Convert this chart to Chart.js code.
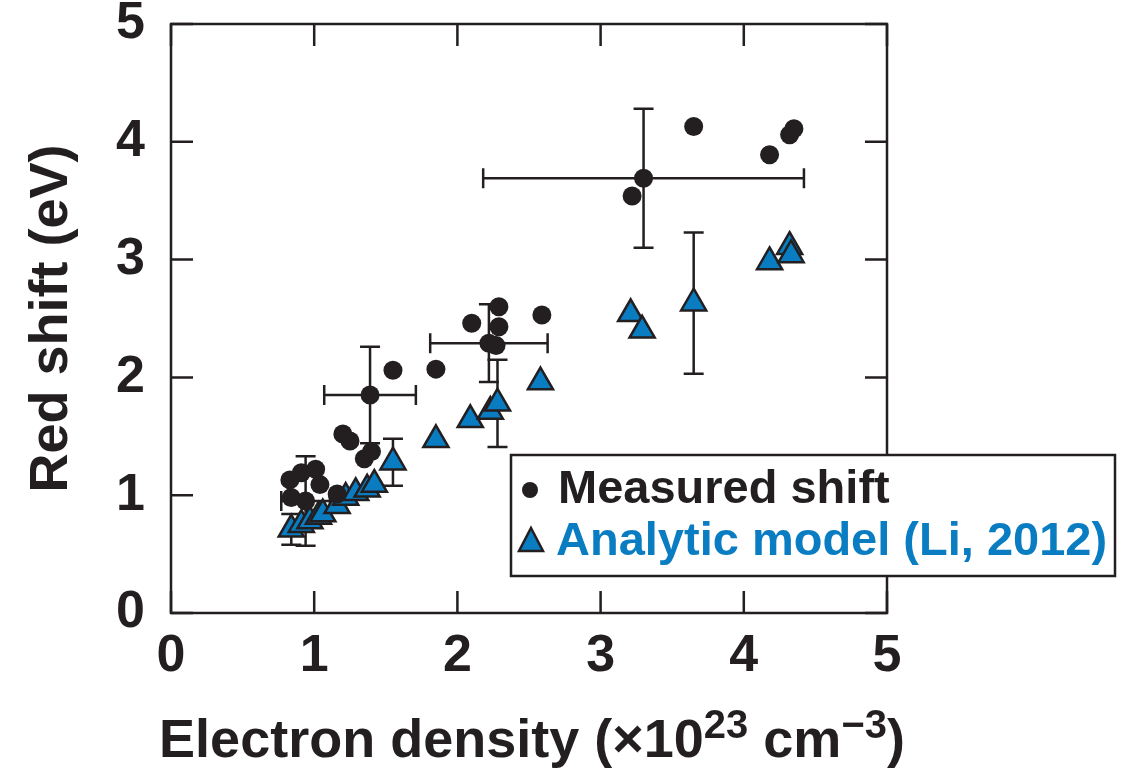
<!DOCTYPE html>
<html>
<head>
<meta charset="utf-8">
<script src="https://cdn.jsdelivr.net/npm/chart.js@4.4.1/dist/chart.umd.min.js"></script>
<style>
  html, body { margin: 0; padding: 0; background: #fff; }
  #wrap { width: 1122px; height: 772px; }
</style>
</head>
<body>
<div id="wrap"><canvas id="chart" width="1122" height="772"></canvas></div>
<script>
// measured red shift (black dots)
const measuredX = [0.83, 0.91, 1.01, 1.04, 0.84, 0.94, 1.16, 1.20, 1.25, 1.35, 1.40, 1.39, 1.55, 1.85,
                   2.10, 2.29, 2.29, 2.22, 2.27, 2.59, 3.22, 3.30, 3.65, 4.18, 4.32, 4.35];
const measuredY = [1.13, 1.19, 1.22, 1.09, 0.98, 0.95, 1.01, 1.52, 1.46, 1.31, 1.37, 1.85, 2.06, 2.07,
                   2.46, 2.60, 2.43, 2.29, 2.27, 2.53, 3.54, 3.69, 4.13, 3.89, 4.06, 4.11];
const measuredXErr = [0, 0, 0, 0, 0, 0.17, 0, 0, 0, 0, 0, 0.32, 0, 0,
                      0, 0, 0, 0.41, 0, 0, 0, 1.12, 0, 0, 0, 0];
const measuredYErr = [0, 0, 0, 0, 0, 0.38, 0, 0, 0, 0, 0, 0.41, 0, 0,
                      0, 0, 0, 0.33, 0, 0, 0, 0.59, 0, 0, 0, 0];

// analytic model (Li, 2012) (blue triangles)
const modelX = [0.84, 0.91, 0.97, 1.03, 1.06, 1.16, 1.22, 1.29, 1.37, 1.42, 1.55, 1.85,
                2.09, 2.23, 2.28, 2.58, 3.21, 3.29, 3.65, 4.18, 4.32, 4.33];
const modelY = [0.71, 0.75, 0.78, 0.82, 0.84, 0.91, 0.98, 1.02, 1.05, 1.09, 1.28, 1.47,
                1.64, 1.71, 1.78, 1.96, 2.54, 2.40, 2.63, 2.98, 3.11, 3.04];
const modelYErr = [0.13, 0, 0, 0, 0, 0, 0, 0, 0, 0, 0.20, 0,
                   0, 0, 0.37, 0, 0, 0, 0.60, 0, 0, 0];

const tickValues = [0, 1, 2, 3, 4, 5];
const legendLabels = ['Measured shift', 'Analytic model (Li, 2012)'];

const ink = '#231f20';
const blue = '#0a7dc2';
const fontFamily = "'Liberation Sans', Arial, sans-serif";

const toPoints = (xs, ys) => xs.map((x, i) => ({ x: x, y: ys[i] }));

// error bars, behind the markers
const errorBars = {
    id: 'errorBars',
    beforeDatasetsDraw(chart) {
        const ctx = chart.ctx;
        const xs = chart.scales.x, ys = chart.scales.y;
        const cap = 10;
        ctx.save();
        ctx.strokeStyle = ink;
        ctx.lineWidth = 2.5;
        const bars = (px, py, exs, eys) => {
            px.forEach((x, i) => {
                const cx = xs.getPixelForValue(x), cy = ys.getPixelForValue(py[i]);
                const ex = exs ? exs[i] : 0, ey = eys ? eys[i] : 0;
                ctx.beginPath();
                if (ex > 0) {
                    const l = xs.getPixelForValue(x - ex), r = xs.getPixelForValue(x + ex);
                    ctx.moveTo(l, cy); ctx.lineTo(r, cy);
                    ctx.moveTo(l, cy - cap); ctx.lineTo(l, cy + cap);
                    ctx.moveTo(r, cy - cap); ctx.lineTo(r, cy + cap);
                }
                if (ey > 0) {
                    const t = ys.getPixelForValue(py[i] + ey), b = ys.getPixelForValue(py[i] - ey);
                    ctx.moveTo(cx, t); ctx.lineTo(cx, b);
                    ctx.moveTo(cx - cap, t); ctx.lineTo(cx + cap, t);
                    ctx.moveTo(cx - cap, b); ctx.lineTo(cx + cap, b);
                }
                ctx.stroke();
            });
        };
        bars(modelX, modelY, null, modelYErr);
        bars(measuredX, measuredY, measuredXErr, measuredYErr);
        ctx.restore();
    }
};

// box round the plot with inward ticks on all four sides
const frame = {
    id: 'frame',
    afterDatasetsDraw(chart) {
        const ctx = chart.ctx, a = chart.chartArea;
        const xs = chart.scales.x, ys = chart.scales.y;
        const len = 22;
        ctx.save();
        ctx.strokeStyle = ink;
        ctx.lineWidth = 2.5;
        ctx.strokeRect(a.left, a.top, a.right - a.left, a.bottom - a.top);
        ctx.beginPath();
        tickValues.forEach(v => {
            const px = xs.getPixelForValue(v), py = ys.getPixelForValue(v);
            ctx.moveTo(px, a.bottom); ctx.lineTo(px, a.bottom - len);
            ctx.moveTo(px, a.top); ctx.lineTo(px, a.top + len);
            ctx.moveTo(a.left, py); ctx.lineTo(a.left + len, py);
            ctx.moveTo(a.right, py); ctx.lineTo(a.right - len, py);
        });
        ctx.stroke();
        ctx.restore();
    }
};

// x title with raised exponents
const xTitle = {
    id: 'xTitle',
    afterDraw(chart) {
        const ctx = chart.ctx, a = chart.chartArea;
        const big = 'bold 54px ' + fontFamily, small = 'bold 40px ' + fontFamily;
        const parts = [
            { t: 'Electron density (\u00d710', f: big, dy: 0 },
            { t: '23', f: small, dy: -19 },
            { t: ' cm', f: big, dy: 0 },
            { t: '\u22123', f: small, dy: -19 },
            { t: ')', f: big, dy: 0 }
        ];
        ctx.save();
        ctx.fillStyle = ink;
        ctx.textBaseline = 'alphabetic';
        let w = 0;
        parts.forEach(p => { ctx.font = p.f; p.w = ctx.measureText(p.t).width; w += p.w; });
        let x = (a.left + a.right) / 2 + 3 - w / 2;
        const base = 757;
        parts.forEach(p => { ctx.font = p.f; ctx.fillText(p.t, x, base + p.dy); x += p.w; });
        ctx.restore();
    }
};

// boxed legend overlapping the lower right corner
const boxLegend = {
    id: 'boxLegend',
    afterDraw(chart) {
        const ctx = chart.ctx;
        const bx = 511, by = 455, bw = 604, bh = 121;
        ctx.save();
        ctx.fillStyle = '#fff';
        ctx.fillRect(bx, by, bw, bh);
        ctx.strokeStyle = ink;
        ctx.lineWidth = 2.5;
        ctx.strokeRect(bx, by, bw, bh);

        ctx.fillStyle = ink;
        ctx.beginPath();
        ctx.arc(530, 490, 8, 0, Math.PI * 2);
        ctx.fill();

        ctx.beginPath();
        ctx.moveTo(531, 528); ctx.lineTo(543, 551); ctx.lineTo(519, 551); ctx.closePath();
        ctx.fillStyle = blue;
        ctx.fill();
        ctx.lineWidth = 2.5;
        ctx.stroke();

        ctx.font = 'bold 47px ' + fontFamily;
        ctx.textBaseline = 'alphabetic';
        ctx.fillStyle = ink;
        ctx.fillText(legendLabels[0], 558, 503);
        ctx.fillStyle = blue;
        ctx.fillText(legendLabels[1], 556, 555);
        ctx.restore();
    }
};

new Chart(document.getElementById('chart').getContext('2d'), {
    type: 'scatter',
    data: {
        datasets: [{
            label: legendLabels[0],
            data: toPoints(measuredX, measuredY),
            pointStyle: 'circle',
            pointRadius: 9.5,
            backgroundColor: ink,
            borderColor: ink,
            borderWidth: 0
        }, {
            label: legendLabels[1],
            data: toPoints(modelX, modelY),
            pointStyle: 'triangle',
            pointRadius: 14.5,
            backgroundColor: blue,
            borderColor: ink,
            borderWidth: 2.5
        }]
    },
    options: {
        responsive: false,
        animation: false,
        layout: { padding: { top: 24, right: 235, bottom: 0, left: 0 } },
        plugins: { legend: { display: false }, tooltip: { enabled: false } },
        scales: {
            x: {
                type: 'linear', min: 0, max: 5,
                afterFit: s => { s.height = 159; s.paddingLeft = 0; s.paddingRight = 0; },
                afterBuildTicks: s => { s.ticks = tickValues.map(v => ({ value: v })); },
                grid: { display: false, drawTicks: false },
                border: { display: false },
                ticks: { color: ink, padding: 12, font: { family: fontFamily, size: 52, weight: 'bold' } }
            },
            y: {
                type: 'linear', min: 0, max: 5,
                afterFit: s => { s.width = 171; s.paddingTop = 0; s.paddingBottom = 0; },
                afterBuildTicks: s => { s.ticks = tickValues.map(v => ({ value: v })); },
                grid: { display: false, drawTicks: false },
                border: { display: false },
                ticks: { color: ink, padding: 26, font: { family: fontFamily, size: 52, weight: 'bold' } },
                title: {
                    display: true, text: 'Red shift (eV)', color: ink,
                    padding: { top: 20, bottom: 0 },
                    font: { family: fontFamily, size: 54, weight: 'bold' }
                }
            }
        }
    },
    plugins: [errorBars, frame, xTitle, boxLegend]
});
</script>
</body>
</html>
